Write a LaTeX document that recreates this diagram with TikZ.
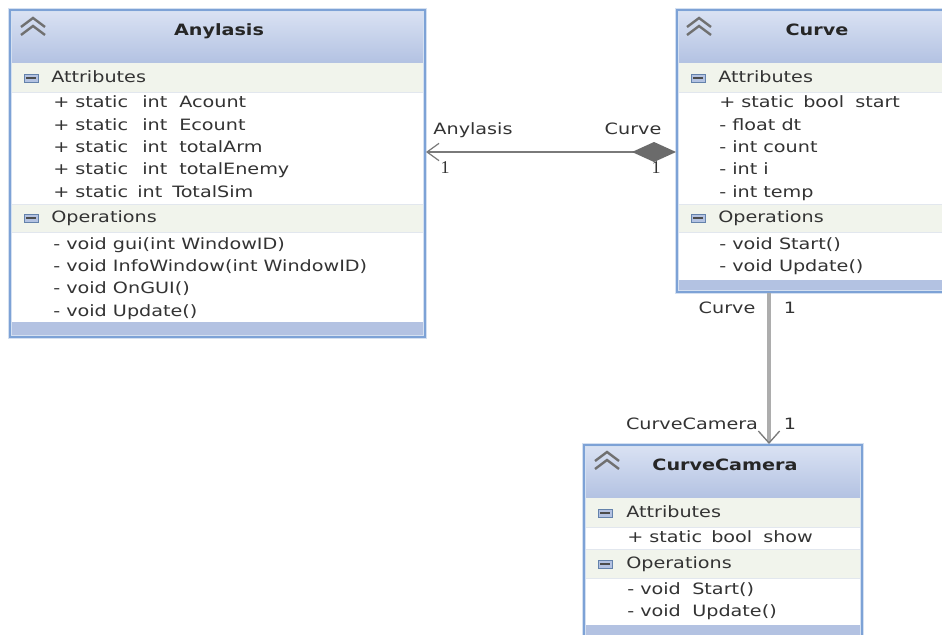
\documentclass[tikz,border=0pt]{standalone}
\usepackage{fontspec}
\setmainfont{DejaVu Sans}[FakeStretch=1.23]
\newfontfamily\numfont{Liberation Serif}
\usetikzlibrary{arrows.meta,fit}

\definecolor{bord}{HTML}{7DA2D6}
\definecolor{halo}{HTML}{D4E0F1}
\definecolor{hdtop}{HTML}{DAE2F3}
\definecolor{hdbot}{HTML}{B3C2E2}
\definecolor{band}{HTML}{F1F4EC}
\definecolor{bandline}{HTML}{E2E7EE}
\definecolor{txt}{HTML}{333333}
\definecolor{ttl}{HTML}{262626}
\definecolor{conn}{HTML}{7A7A7A}
\definecolor{dia}{HTML}{6B6B6B}
\definecolor{dep}{HTML}{ADADAD}
\definecolor{chev}{HTML}{707070}

\newcommand\umlsize{\fontsize{11.7pt}{13pt}\selectfont}
% fixed-width column so the words of a member line up
\newcommand\colbox[2]{\makebox[#1pt][l]{#2}}

\tikzset{
  row/.style={anchor=west, inner sep=0pt, text height=1.34ex, text depth=0pt,
              text=txt, font=\umlsize},
  classname/.style={inner sep=0pt, text height=1.34ex, text depth=0pt,
              text=ttl, font=\umlsize\bfseries},
  lbl/.style={inner sep=0pt, text height=1.34ex, text depth=0pt,
              text=txt, font=\umlsize},
  numlbl/.style={inner sep=0pt, text=txt, font=\numfont\fontsize{13.5pt}{14pt}\selectfont},
  classframe/.style={inner sep=0pt, draw=bord, line width=1.5pt,
              preaction={draw=halo, line width=3.5pt}},
  bandrule/.style={draw=bandline, line width=0.6pt},
  assoc/.style={draw=conn, line width=1.5pt,
              {Diamond[length=33pt,width=15pt,color=dia,fill=dia]}-{Straight Barb[length=9pt,width=13pt,line width=0.9pt]}},
  depline/.style={draw=dep, line width=2.6pt,
              -{Straight Barb[length=9pt,width=16pt,line width=1pt,color=conn]}},
  chevicon/.pic={
    \draw[chev, line width=1.8pt, line join=miter] (-12,9) -- (0,0) -- (12,9);
    \draw[chev, line width=1.8pt, line join=miter] (-12,17) -- (0,8) -- (12,17);
  },
  secicon/.pic={
    \filldraw[fill=hdbot, draw=bord!80!black, line width=0.4pt] (-7,-4) rectangle (7,4);
    \draw[black!70, line width=1pt] (-5,0) -- (5,0);
  },
}

% class compartments: header, attributes band, operations band
\newcommand\classbody[6]{%
  % #1 left, #2 right, #3 top, #4 header bottom, #5 attr band bottom, #6 ops band top
  \shade[top color=hdtop, bottom color=hdbot] (#1,#3) rectangle (#2,#4);
  \fill[band] (#1,#4) rectangle (#2,#5);
  \fill[band] (#1,#6) rectangle (#2,#6+28);
  \draw[bandrule] (#1,#5) -- (#2,#5);
  \draw[bandrule] (#1,#6) -- (#2,#6);
  \draw[bandrule] (#1,#6+28) -- (#2,#6+28);
}

\begin{document}
\begin{tikzpicture}[x=0.75pt, y=-0.75pt]
\useasboundingbox (0,0) rectangle (942,635);
\fill[white] (0,0) rectangle (942,635);

% ---------------- Anylasis ----------------
\classbody{10}{425}{10}{63}{92}{204}
\fill[hdbot] (10,322) rectangle (425,337);
\node[classframe, fit={(10,10) (425,337)}] (anyl) {};
\pic at (33,18) {chevicon};
\node[classname] (anylT) at (219,31) {Anylasis};
\pic at (31,78) {secicon};
\node[row] (anylA) at (51,78) {Attributes};
\node[row] (anylA1) at (53,103) {\colbox{66.75}{+ static}\colbox{27.75}{int}Acount};
\node[row] (anylA2) at (53,126) {\colbox{66.75}{+ static}\colbox{27.75}{int}Ecount};
\node[row] (anylA3) at (53,148) {\colbox{66.75}{+ static}\colbox{27.75}{int}totalArm};
\node[row] (anylA4) at (53,170) {\colbox{66.75}{+ static}\colbox{27.75}{int}totalEnemy};
\node[row] (anylA5) at (53,193) {\colbox{63}{+ static}\colbox{26.25}{int}TotalSim};
\pic at (31,218) {secicon};
\node[row] (anylO) at (51,218) {Operations};
\node[row] (anylO1) at (53,245) {- void gui(int WindowID)};
\node[row] (anylO2) at (53,267) {- void InfoWindow(int WindowID)};
\node[row] (anylO3) at (53,289) {- void OnGUI()};
\node[row] (anylO4) at (53,312) {- void Update()};

% ---------------- Curve ----------------
\classbody{677}{958}{10}{63}{92}{204}
\fill[hdbot] (677,280) rectangle (958,292);
\node[classframe, fit={(677,10) (958,292)}] (curve) {};
\pic at (699,18) {chevicon};
\node[classname] (curveT) at (817,31) {Curve};
\pic at (698,78) {secicon};
\node[row] (curveA) at (718,78) {Attributes};
\node[row] (curveA1) at (719,103) {\colbox{63}{+ static}\colbox{39}{bool}start};
\node[row] (curveA2) at (719,126) {- float dt};
\node[row] (curveA3) at (719,148) {- int count};
\node[row] (curveA4) at (719,170) {- int i};
\node[row] (curveA5) at (719,193) {- int temp};
\pic at (698,218) {secicon};
\node[row] (curveO) at (718,218) {Operations};
\node[row] (curveO1) at (719,245) {- void Start()};
\node[row] (curveO2) at (719,267) {- void Update()};

% ---------------- CurveCamera ----------------
\shade[top color=hdtop, bottom color=hdbot] (584,445) rectangle (862,498);
\fill[band] (584,498) rectangle (862,527);
\fill[band] (584,549) rectangle (862,578);
\draw[bandrule] (584,527) -- (862,527);
\draw[bandrule] (584,549) -- (862,549);
\draw[bandrule] (584,578) -- (862,578);
\fill[hdbot] (584,625) rectangle (862,642);
\node[classframe, fit={(584,445) (862,642)}] (cam) {};
\pic at (607,452) {chevicon};
\node[classname] (camT) at (725,466) {CurveCamera};
\pic at (605,513) {secicon};
\node[row] (camA) at (626,513) {Attributes};
\node[row] (camA1) at (627,538) {\colbox{63}{+ static}\colbox{39}{bool}show};
\pic at (605,564) {secicon};
\node[row] (camO) at (626,564) {Operations};
\node[row] (camO1) at (627,590) {\colbox{48.75}{- void}Start()};
\node[row] (camO2) at (627,612) {\colbox{48.75}{- void}Update()};

% ---------------- connectors ----------------
\coordinate (hy) at (0,152);
\coordinate (vx) at (769,0);
\draw[assoc] (curve.west |- hy) -- (anyl.east |- hy);
\draw[depline] (curve.south -| vx) -- (cam.north -| vx);

\node[lbl] (lAny) at (473,130) {Anylasis};
\node[lbl] (lCur) at (633,130) {Curve};
\node[numlbl] (lAn1) at (445,168) {1};
\node[numlbl] (lCu1) at (656,168) {1};
\node[lbl] (lVc) at (727,309) {Curve};
\node[lbl] (lVc1) at (790,309) {1};
\node[lbl] (lVcc) at (692,425) {CurveCamera};
\node[lbl] (lVcc1) at (790,425) {1};
\end{tikzpicture}
\end{document}
